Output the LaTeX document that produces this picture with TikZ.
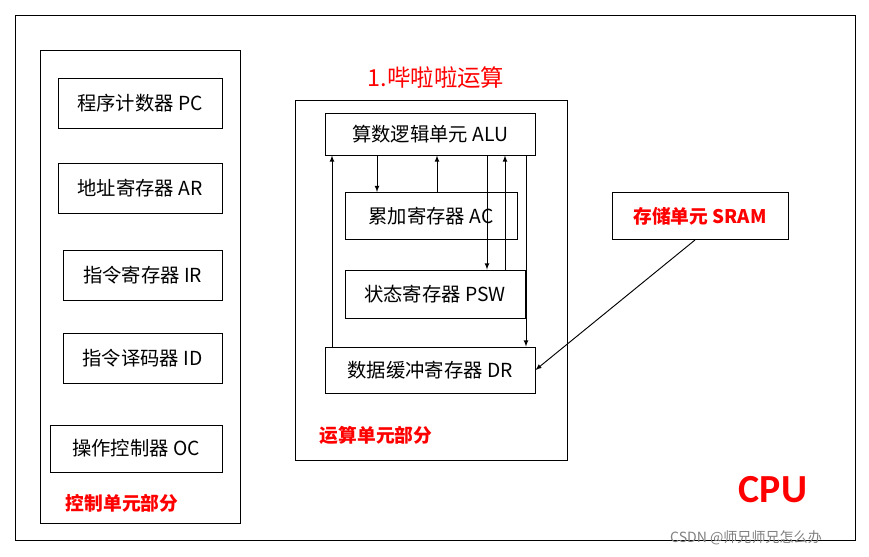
\documentclass[tikz,border=0pt]{standalone}
\usepackage{fontspec}
\setmainfont{Carlito}
\newfontfamily\cjk{Noto Sans CJK SC}
\usetikzlibrary{positioning}

\tikzset{
  reg/.style={draw, thick, font=\cjk\fontsize{16.5}{18}\selectfont, inner sep=0pt},
  redlabel/.style={text=red, font=\cjk\bfseries\fontsize{16}{18}\selectfont},
  link/.style={-latex, thick},
}

\begin{document}
\begin{tikzpicture}[x=0.03cm, y=-0.03cm]
  \useasboundingbox (0,0) rectangle (869,556);

  % outer boxes
  \draw[thick] (15,15) rectangle (855,540);
  \draw[thick] (40,50) rectangle (240,523);
  \draw[thick] (295,100) rectangle (567,460);

  % control unit
  \foreach \name/\txt/\xa/\ya/\xb/\yb in {
      pc/程序计数器 PC/58/78/222/128,
      ar/地址寄存器 AR/58/163/222/213,
      ir/指令寄存器 IR/63/250/222/300,
      id/指令译码器 ID/63/333/222/383,
      oc/操作控制器 OC/50/425/222/472} {
    \draw[thick] (\xa,\ya) rectangle (\xb,\yb);
    \node[font=\cjk\fontsize{16.5}{18}\selectfont] (\name) at ({(\xa+\xb)/2},{(\ya+\yb)/2}) {\txt};
  }
  \node[redlabel] (ctl) at (122,503) {控制单元部分};

  % arithmetic unit
  \node[text=red, font=\cjk\fontsize{20}{22}\selectfont] (title) at (436,78) {1.哔啦啦运算};
  \node[reg, minimum width=210*0.03cm, minimum height=42*0.03cm] (alu) at (430,134) {算数逻辑单元 ALU};
  \node[reg, minimum width=172*0.03cm, minimum height=47*0.03cm] (ac) at (431,216) {累加寄存器 AC};
  \node[reg, minimum width=180*0.03cm, minimum height=48*0.03cm] (psw) at (435,294) {状态寄存器 PSW};
  \node[reg, minimum width=210*0.03cm, minimum height=46*0.03cm] (dr) at (430,370) {数据缓冲寄存器 DR};
  \node[redlabel] (alab) at (376,435) {运算单元部分};

  % memory
  \node[reg, text=red, font=\cjk\bfseries\fontsize{16}{18}\selectfont,
        minimum width=176*0.03cm, minimum height=47*0.03cm] (sram) at (700,216) {存储单元 SRAM};

  \node[text=red, font=\bfseries\fontsize{34}{36}\selectfont] (cpu) at (773,490) {CPU};
  \node[text=gray, font=\cjk\fontsize{12}{14}\selectfont] (mark) at (746,538) {CSDN @师兄师兄怎么办};

  % connectors
  \draw[link] (alu.south -| 377,0) -- (ac.north -| 377,0);
  \draw[link] (ac.north -| 437,0) -- (alu.south -| 437,0);
  \draw[link] (alu.south -| 487,0) -- (psw.north -| 487,0);
  \draw[link] (psw.north -| 505,0) -- (alu.south -| 505,0);
  \draw[link] (dr.north -| 332,0) -- (alu.south -| 332,0);
  \draw[link] (alu.south -| 526,0) -- (dr.north -| 526,0);
  \coordinate (s1) at (695,240);
  \draw[link] (s1) -- (dr.east);
\end{tikzpicture}
\end{document}
